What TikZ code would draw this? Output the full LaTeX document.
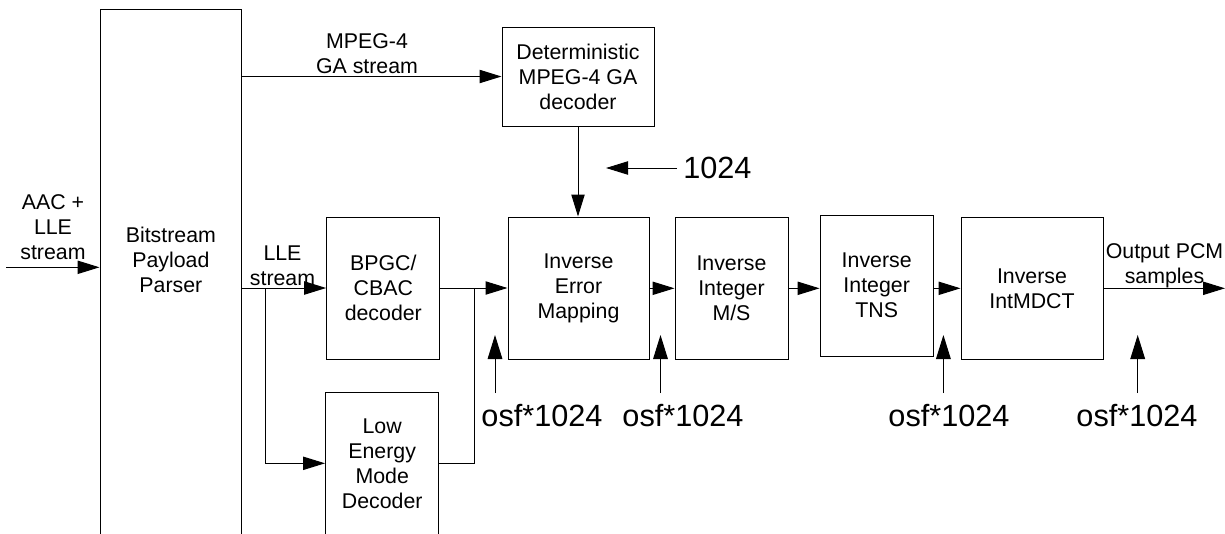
\documentclass[tikz,border=0pt]{standalone}
\usepackage{fontspec}
\setmainfont{Liberation Sans}
\usetikzlibrary{arrows.meta,positioning,calc}

\begin{document}
\begin{tikzpicture}[x=0.75pt,y=-0.75pt,
    every node/.style={font=\fontsize{16}{18.75}\selectfont},
    box/.style={draw,line width=0.75pt,align=center,inner sep=0pt},
    lbl/.style={align=center,inner sep=0pt},
    osf/.style={font=\fontsize{23}{27}\selectfont,inner xsep=0pt,inner ysep=8.6pt},
    arr/.style={-{Triangle[length=16.5pt,width=10pt]},line width=0.75pt},
    bigarr/.style={-{Triangle[length=18pt,width=11pt]},line width=0.75pt}]

  \useasboundingbox (0,0) rectangle (1225,533);
  \clip (0,0) rectangle (1225,533);

  % Parser (runs off the bottom of the page)
  \node[box,minimum width=106.25pt,minimum height=405pt,anchor=north]
    (parser) at (170.85,9.3) {};
  \node[lbl] (parsertxt) at (parser.north |- 0,259.5) {Bitstream\\Payload\\Parser};

  % Processing boxes
  \node[box,minimum width=114pt,minimum height=74.25pt]
    (gadec) at (578,76.5) {Deterministic\\MPEG-4 GA\\decoder};
  \node[box,minimum width=85pt,minimum height=106.5pt]
    (bpgc) at (383.3,288) {BPGC/\\CBAC\\decoder};
  \node[box,minimum width=85pt,minimum height=106.5pt]
    (lemd) at (382.2,463.3) {Low\\Energy\\Mode\\Decoder};
  \node[box,minimum width=105.75pt,minimum height=106.5pt]
    (iem) at (578.5,288) {Inverse\\Error\\Mapping};
  \node[box,minimum width=84.75pt,minimum height=106.5pt]
    (ms) at (731.5,288.3) {Inverse\\Integer\\M/S};
  \node[box,minimum width=85pt,minimum height=105.75pt]
    (tns) at (876.7,285.5) {Inverse\\Integer\\TNS};
  \node[box,minimum width=106.5pt,minimum height=106.5pt]
    (mdct) at (1032,288.3) {Inverse\\IntMDCT};

  % Stream labels
  \node[lbl] (aaclbl) at (53,226.7) {AAC +\\LLE\\stream};
  \node[lbl] (mpeglbl) at (367,54) {MPEG-4\\GA stream};
  \node[lbl] (llelbl) at (282.5,265.5) {LLE\\stream};
  \node[lbl] (pcmlbl) at (1164.5,266) {Output PCM\\samples};

  % Frame length labels
  \node[osf,inner xsep=4.5pt,inner ysep=0pt,anchor=west] (tenfour) at (677,168) {1024};
  \node[osf] (osfA) at (542,416) {osf*1024};
  \node[osf] (osfB) at (683,416) {osf*1024};
  \node[osf] (osfC) at (949,416) {osf*1024};
  \node[osf] (osfD) at (1137,416) {osf*1024};

  % Free ends
  \coordinate (inp) at (6,267.3);
  \coordinate (pcmout) at (1225,288.3);
  \coordinate (split) at (265.7,288);
  \coordinate (join) at (474,288);
  \coordinate (tenfourtip) at (606,168);
  \coordinate (tipA) at (495,335);
  \coordinate (tipB) at (660.5,335);
  \coordinate (tipC) at (943.4,335);
  \coordinate (tipD) at (1137.7,335);

  % Connectors
  \draw[arr] (inp) -- (inp -| parser.west);
  \draw[arr] (parser.east |- gadec.west) -- (gadec.west);
  \draw[arr] (gadec.south) -- (gadec.south |- iem.north);
  \draw[arr] (tenfour.west) -- (tenfourtip);
  \draw[arr] (parser.east |- bpgc.west) -- (bpgc.west);
  \draw[arr] (split) |- (lemd.west);
  \draw[line width=0.75pt] (lemd.east) -| (join);
  \draw[arr] (bpgc) -- (iem);
  \draw[arr] (iem.east |- ms.west) -- (ms.west);
  \draw[arr] (ms.east) -- (ms.east -| tns.west);
  \draw[arr] (tns.east |- mdct.west) -- (mdct.west);
  \draw[arr] (mdct.east) -- (pcmout);

  % Frame length inputs
  \draw[bigarr] (osfA.north -| tipA) -- (tipA);
  \draw[bigarr] (osfB.north -| tipB) -- (tipB);
  \draw[bigarr] (osfC.north -| tipC) -- (tipC);
  \draw[bigarr] (osfD.north -| tipD) -- (tipD);

\end{tikzpicture}
\end{document}
